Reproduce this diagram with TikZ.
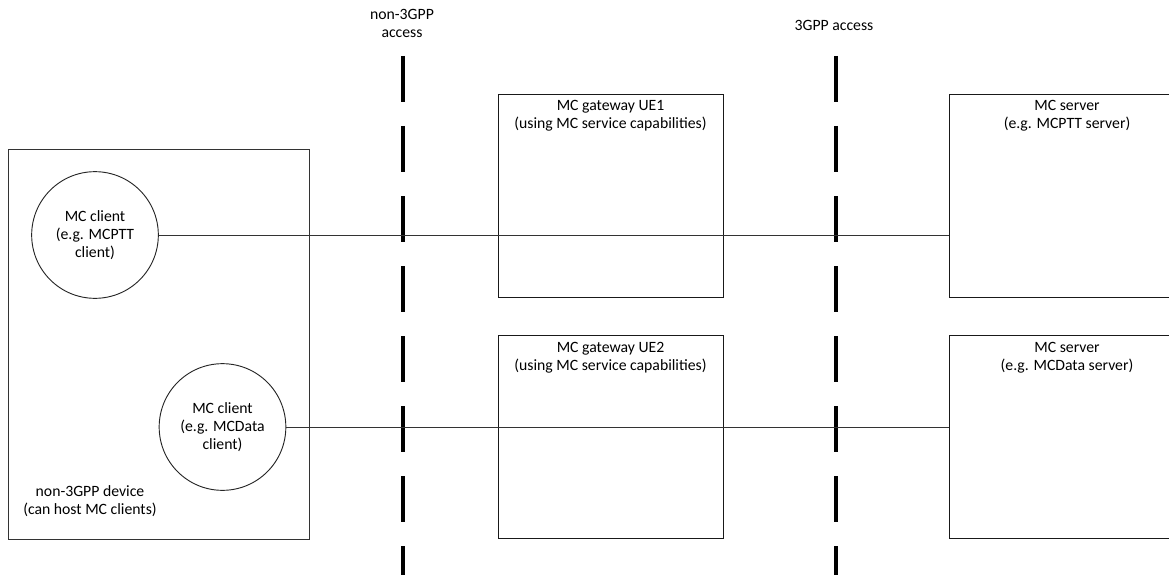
\documentclass[tikz,border=0pt]{standalone}
\usepackage{fontspec}
\setmainfont{Carlito}
\usetikzlibrary{positioning}
\tikzset{
  diagfont/.style={font=\fontsize{11.8}{13.5}\selectfont},
  mcbox/.style={draw=black!90, line width=0.7pt, minimum width=#1,
                minimum height=152.25pt, inner sep=0pt},
  mcbox/.default=168.75pt,
  boxtext/.style={anchor=north, yshift=-4pt, align=center,
                  diagfont, inner sep=1pt},
  devbox/.style={draw=black!80, line width=0.7pt, minimum width=225.75pt,
                 minimum height=292.5pt, inner sep=0pt},
  clientnode/.style={draw=black!85, circle, line width=0.7pt, minimum size=95pt,
                     align=center, diagfont, inner sep=0pt},
  lbl/.style={align=center, diagfont, inner sep=1pt},
  accline/.style={line width=2.4pt, dash pattern=on 34.5pt off 18pt},
  link/.style={draw=black!80, line width=0.7pt},
}

\begin{document}
\begin{tikzpicture}[x=0.75pt,y=-0.75pt,node distance=28.5pt]
  \useasboundingbox (0,0) rectangle (1169,574);
  \clip (0,0) rectangle (1169,574);

  % non-3GPP device with its two clients
  \node[devbox] (dev) at (158.5,344) {};
  \node[lbl] (devtext) at (90,501) {non-3GPP device\\(can host MC clients)};
  \node[clientnode] (c1) at (95,235) {MC client\\(e.g. MCPTT\\client)};
  \node[clientnode] (c2) at (222.5,427) {MC client\\(e.g. MCData\\client)};

  % gateways and servers
  \node[mcbox, label={[boxtext]north:MC gateway UE1\\(using MC service capabilities)}]
    (gw1) at (610.5,195.5) {};
  \node[mcbox, below=of gw1,
        label={[boxtext]north:MC gateway UE2\\(using MC service capabilities)}] (gw2) {};
  \node[mcbox=177pt, label={[boxtext]north:MC server\\(e.g. MCPTT server)}]
    (srv1) at (1067,195.5) {};
  \node[mcbox=177pt, below=of srv1,
        label={[boxtext]north:MC server\\(e.g. MCData server)}] (srv2) {};

  % access boundaries
  \node[lbl] (nonacc) at (402,23.5) {non-3GPP\\access};
  \node[lbl] (acc) at (834,25) {3GPP access};
  \coordinate (natop) at (403,56);
  \coordinate (nabot) at (403,580);
  \coordinate (atop) at (836,56);
  \coordinate (abot) at (836,580);
  \draw[accline] (natop) -- (nabot);
  \draw[accline] (atop) -- (abot);

  % client to server
  \draw[link] (c1.east) -- (c1.east -| srv1.west);
  \draw[link] (c2.east) -- (c2.east -| srv2.west);
\end{tikzpicture}
\end{document}
